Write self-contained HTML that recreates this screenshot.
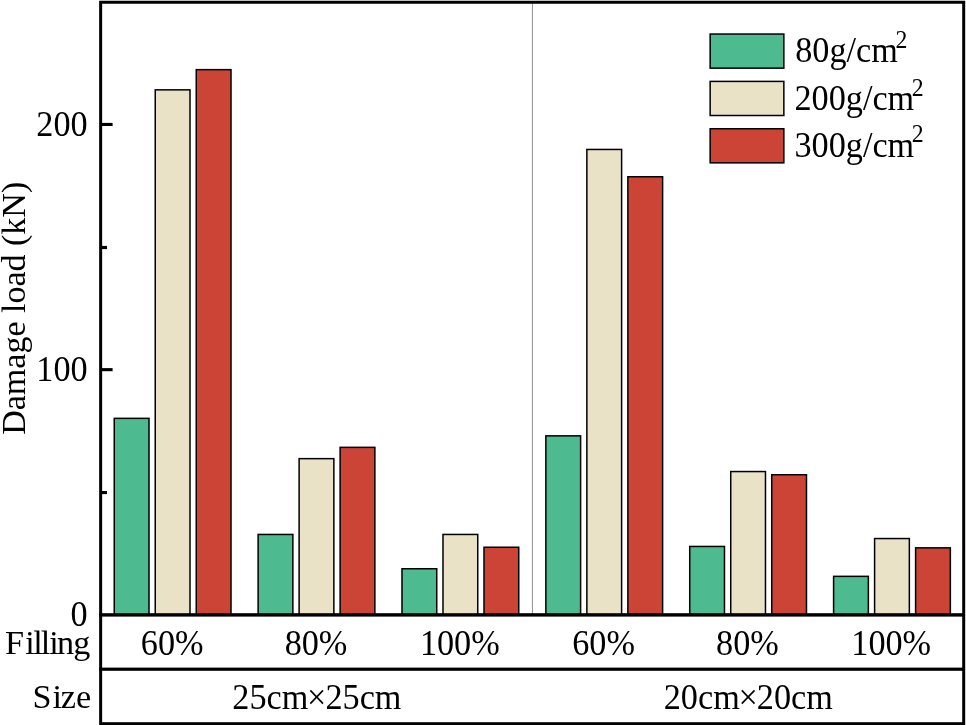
<!DOCTYPE html>
<html><head><meta charset="utf-8"><title>Damage load chart</title>
<style>
html,body{margin:0;padding:0;background:#fff;}
body{width:966px;height:725px;overflow:hidden;}
svg{display:block;will-change:transform;}
svg text{font-family:"Liberation Serif",serif;font-size:34px;fill:#000;}
</style></head><body>
<svg width="966" height="725" viewBox="0 0 966 725">
<rect x="0" y="0" width="966" height="725" fill="#fff"/>
<!-- group separator -->
<rect x="531.9" y="2.25" width="1.1" height="612.65" fill="#9a9a9a"/>
<!-- bars -->
<rect x="114.25" y="418.35" width="34.75" height="196.55" fill="#4DBB8F" stroke="#000" stroke-width="1.5"/>
<rect x="155.25" y="89.85" width="34.75" height="525.05" fill="#E9E2C6" stroke="#000" stroke-width="1.5"/>
<rect x="196.25" y="69.65" width="34.75" height="545.25" fill="#CC4436" stroke="#000" stroke-width="1.5"/>
<rect x="258.12" y="534.45" width="34.75" height="80.45" fill="#4DBB8F" stroke="#000" stroke-width="1.5"/>
<rect x="299.12" y="458.65" width="34.75" height="156.25" fill="#E9E2C6" stroke="#000" stroke-width="1.5"/>
<rect x="340.12" y="447.35" width="34.75" height="167.55" fill="#CC4436" stroke="#000" stroke-width="1.5"/>
<rect x="401.99" y="568.75" width="34.75" height="46.15" fill="#4DBB8F" stroke="#000" stroke-width="1.5"/>
<rect x="442.99" y="534.45" width="34.75" height="80.45" fill="#E9E2C6" stroke="#000" stroke-width="1.5"/>
<rect x="483.99" y="547.25" width="34.75" height="67.65" fill="#CC4436" stroke="#000" stroke-width="1.5"/>
<rect x="545.86" y="435.85" width="34.75" height="179.05" fill="#4DBB8F" stroke="#000" stroke-width="1.5"/>
<rect x="586.86" y="149.45" width="34.75" height="465.45" fill="#E9E2C6" stroke="#000" stroke-width="1.5"/>
<rect x="627.86" y="176.75" width="34.75" height="438.15" fill="#CC4436" stroke="#000" stroke-width="1.5"/>
<rect x="689.73" y="546.45" width="34.75" height="68.45" fill="#4DBB8F" stroke="#000" stroke-width="1.5"/>
<rect x="730.73" y="471.55" width="34.75" height="143.35" fill="#E9E2C6" stroke="#000" stroke-width="1.5"/>
<rect x="771.73" y="474.75" width="34.75" height="140.15" fill="#CC4436" stroke="#000" stroke-width="1.5"/>
<rect x="833.60" y="576.35" width="34.75" height="38.55" fill="#4DBB8F" stroke="#000" stroke-width="1.5"/>
<rect x="874.60" y="538.55" width="34.75" height="76.35" fill="#E9E2C6" stroke="#000" stroke-width="1.5"/>
<rect x="915.60" y="547.85" width="34.75" height="67.05" fill="#CC4436" stroke="#000" stroke-width="1.5"/>
<!-- frame, axis line, table row divider -->
<rect x="100.65" y="2.25" width="863.0500000000001" height="721.45" fill="none" stroke="#000" stroke-width="3"/>
<rect x="99.2" y="613.2" width="865.8000000000001" height="3.4" fill="#000"/>
<rect x="99.2" y="667.6" width="865.8000000000001" height="3.2" fill="#000"/>
<!-- ticks -->
<rect x="101" y="122.9" width="11.6" height="3.1" fill="#000"/>
<rect x="101" y="368.1" width="11.6" height="3.1" fill="#000"/>
<rect x="101" y="245.9" width="6" height="3.2" fill="#000"/>
<rect x="101" y="491.0" width="6" height="3.1" fill="#000"/>
<!-- tick labels -->
<text transform="translate(87.60,136.00) scale(0.9661,1)" text-anchor="end" style="font-size:35.4px">200</text>
<text transform="translate(87.60,381.10) scale(0.9661,1)" text-anchor="end" style="font-size:35.4px">100</text>
<text transform="translate(87.60,626.10) scale(0.9661,1)" text-anchor="end" style="font-size:35.4px">0</text>

<text transform="scale(0.9913,1)" x="5.14 25.52 33.44 41.21 49.73 57.60 73.84" y="653.8" style="font-size:34.5px">Filling</text><text transform="scale(0.9913,1)" x="32.79 52.96 61.33 76.72" y="707.8" style="font-size:34.5px">Size</text>
<text transform="translate(24.8,308.3) rotate(-90)" text-anchor="middle" style="font-size:34px">Damage load (kN)</text>
<text transform="translate(172.20,654.80) scale(0.9661,1)" text-anchor="middle" style="font-size:35.4px">60%</text>
<text transform="translate(316.00,654.80) scale(0.9661,1)" text-anchor="middle" style="font-size:35.4px">80%</text>
<text transform="translate(459.80,654.80) scale(0.9661,1)" text-anchor="middle" style="font-size:35.4px">100%</text>
<text transform="translate(603.60,654.80) scale(0.9661,1)" text-anchor="middle" style="font-size:35.4px">60%</text>
<text transform="translate(747.40,654.80) scale(0.9661,1)" text-anchor="middle" style="font-size:35.4px">80%</text>
<text transform="translate(891.20,654.80) scale(0.9661,1)" text-anchor="middle" style="font-size:35.4px">100%</text>

<text transform="translate(316.90,708.60) scale(0.9828,1)" text-anchor="middle" style="font-size:34.8px">25cm<tspan dx="-1.3" dy="0.6">×</tspan><tspan dx="-0.9" dy="-0.6">25cm</tspan></text>
<text transform="translate(748.30,708.60) scale(0.9828,1)" text-anchor="middle" style="font-size:34.8px">20cm<tspan dx="-1.3" dy="0.6">×</tspan><tspan dx="-0.9" dy="-0.6">20cm</tspan></text>

<!-- legend -->
<rect x="710.15" y="34.05" width="73.70" height="34.10" fill="#4DBB8F" stroke="#000" stroke-width="1.5"/><text transform="translate(795.20,61.70) scale(0.9828,1)" text-anchor="start" style="font-size:34.8px">80g/cm<tspan dx="-2.4" dy="-14.2" style="font-size:24.2px">2</tspan></text>
<rect x="710.15" y="81.40" width="73.70" height="34.10" fill="#E9E2C6" stroke="#000" stroke-width="1.5"/><text transform="translate(794.50,109.70) scale(0.9828,1)" text-anchor="start" style="font-size:34.8px">200g/cm<tspan dx="-2.4" dy="-14.2" style="font-size:24.2px">2</tspan></text>
<rect x="710.15" y="128.75" width="73.70" height="34.10" fill="#CC4436" stroke="#000" stroke-width="1.5"/><text transform="translate(794.50,156.60) scale(0.9828,1)" text-anchor="start" style="font-size:34.8px">300g/cm<tspan dx="-2.4" dy="-14.2" style="font-size:24.2px">2</tspan></text>

</svg>
</body></html>
